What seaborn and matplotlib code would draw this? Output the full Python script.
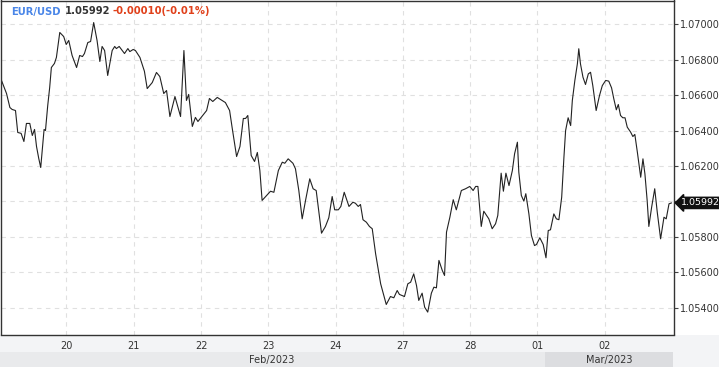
import matplotlib
matplotlib.use("Agg")
import matplotlib.pyplot as plt
from matplotlib.patches import Rectangle
import seaborn as sns
import pandas as pd

# ---- data (hours from chart start, EUR/USD price) ----
hours = [0.8, 2.6, 3.8, 4.6, 5.8, 6.6, 7.8, 8.8, 9.7, 10.9, 11.8, 12.6, 13.3, 14.1, 14.8, 15.4, 16.0, 16.5,
         17.3, 18.0, 18.6, 19.7, 20.4, 21.6, 23.0, 23.9, 24.8, 26.0, 27.6, 28.7, 29.7, 30.4, 31.6, 32.6, 33.7,
         34.9, 35.9, 36.7, 37.6, 38.7, 40.3, 41.2, 41.8, 42.8, 44.7, 45.9, 46.6, 47.8, 48.6, 50.2, 51.8, 52.8,
         54.6, 56.1, 57.3, 58.7, 59.7, 60.9, 62.7, 64.7, 65.9, 66.8, 67.6, 68.9, 70.0, 70.9, 74.0, 75.0, 76.2,
         77.8, 80.7, 82.2, 83.1, 84.7, 85.9, 87.1, 87.9, 88.7, 89.9, 91.1, 92.1, 93.0, 93.8, 96.8, 98.0, 99.6,
         101.0, 101.9, 103.1, 104.8, 105.7, 106.9, 108.1, 109.3, 110.8, 112.0, 113.1, 115.0, 116.4, 117.6,
         118.8, 119.7, 121.0, 121.9, 123.1, 124.8, 126.2, 127.1, 128.1, 128.9, 129.8, 131.0, 132.1, 133.1,
         134.3, 136.1, 138.1, 139.6, 140.8, 142.0, 142.8, 144.6, 145.8, 146.8, 147.9, 148.9, 149.7, 150.9,
         151.8, 152.9, 154.2, 155.1, 156.0, 156.9, 158.1, 158.9, 159.6, 160.8, 162.0, 163.1, 164.9, 166.4,
         167.9, 169.1, 170.0, 170.8, 171.5, 172.0, 172.9, 174.7, 175.9, 177.1, 177.9, 179.1, 179.9, 180.8,
         181.9, 183.1, 183.9, 184.9, 185.4, 186.3, 187.2, 187.9, 189.0, 189.9, 191.0, 191.7, 192.9, 194.1,
         195.1, 195.9, 196.7, 197.9, 198.8, 199.7, 200.7, 201.5, 202.1, 203.0, 203.9, 204.5, 205.4, 206.3,
         206.8, 207.4, 208.3, 209.2, 210.2, 211.0, 211.8, 213.0, 214.2, 215.2, 216.4, 217.5, 218.5, 219.3,
         220.2, 220.9, 221.7, 222.5, 223.3, 224.1, 225.3, 226.1, 226.8, 227.7, 228.9, 229.7, 230.4, 231.2,
         231.8, 232.8, 233.9, 234.8, 236.0, 237.2, 238.0, 239.0, 239.9]
price = [1.06684, 1.06610, 1.06531, 1.06520, 1.06514, 1.06390, 1.06385, 1.06339, 1.06441, 1.06441, 1.06373,
         1.06407, 1.06311, 1.06243, 1.06192, 1.06299, 1.06407, 1.06401, 1.06542, 1.06644, 1.06757, 1.06780,
         1.06814, 1.06955, 1.06932, 1.06887, 1.06910, 1.06825, 1.06757, 1.06825, 1.06819, 1.06836, 1.06898,
         1.06904, 1.07011, 1.06910, 1.06791, 1.06876, 1.06853, 1.06712, 1.06853, 1.06876, 1.06864, 1.06876,
         1.06836, 1.06864, 1.06847, 1.06859, 1.06853, 1.06814, 1.06736, 1.06638, 1.06672, 1.06729, 1.06706,
         1.06610, 1.06627, 1.06480, 1.06593, 1.06480, 1.06853, 1.06571, 1.06605, 1.06424, 1.06475, 1.06452,
         1.06514, 1.06582, 1.06565, 1.06588, 1.06559, 1.06514, 1.06418, 1.06254, 1.06311, 1.06469, 1.06469,
         1.06486, 1.06260, 1.06226, 1.06277, 1.06175, 1.06006, 1.06058, 1.06052, 1.06175, 1.06222, 1.06216,
         1.06241, 1.06216, 1.06185, 1.06062, 1.05902, 1.06006, 1.06128, 1.06072, 1.06062, 1.05821, 1.05859,
         1.05908, 1.06028, 1.05953, 1.05953, 1.05972, 1.06052, 1.05972, 1.05996, 1.05990, 1.05972, 1.05983,
         1.05897, 1.05883, 1.05859, 1.05846, 1.05705, 1.05535, 1.05418, 1.05463, 1.05456, 1.05497, 1.05475,
         1.05463, 1.05535, 1.05544, 1.05591, 1.05525, 1.05441, 1.05482, 1.05403, 1.05375, 1.05482, 1.05516,
         1.05512, 1.05667, 1.05610, 1.05582, 1.05827, 1.05911, 1.06010, 1.05953, 1.06062, 1.06072, 1.06085,
         1.06062, 1.06085, 1.06085, 1.05953, 1.05859, 1.05945, 1.05902, 1.05846, 1.05874, 1.05921, 1.06160,
         1.06058, 1.06160, 1.06090, 1.06175, 1.06270, 1.06335, 1.06166, 1.06034, 1.06002, 1.06044, 1.05930,
         1.05808, 1.05751, 1.05757, 1.05795, 1.05757, 1.05682, 1.05836, 1.05840, 1.05930, 1.05902, 1.05897,
         1.06024, 1.06250, 1.06401, 1.06473, 1.06429, 1.06571, 1.06684, 1.06778, 1.06863, 1.06778, 1.06702,
         1.06661, 1.06721, 1.06730, 1.06655, 1.06514, 1.06599, 1.06655, 1.06684, 1.06680, 1.06642, 1.06580,
         1.06518, 1.06548, 1.06486, 1.06473, 1.06473, 1.06420, 1.06392, 1.06367, 1.06379, 1.06279, 1.06137,
         1.06241, 1.06156, 1.06006, 1.05859, 1.05968, 1.06072, 1.05940, 1.05789, 1.05911, 1.05902, 1.05987,
         1.05992]

day_ticks = [24, 48, 72, 96, 120, 144, 168, 192, 216]
day_labels = ["20", "21", "22", "23", "24", "27", "28", "01", "02"]
price_ticks = [1.054, 1.056, 1.058, 1.060, 1.062, 1.064, 1.066, 1.068, 1.070]
symbol = "EUR/USD"
last_price = 1.05992
change_text = "-0.00010(-0.01%)"
month_labels = ["Feb/2023", "Mar/2023"]

sns.set_style("white")
plt.rcParams['font.family'] = ['DejaVu Sans']

W, H = 719, 367
fig = plt.figure(figsize=(W / 100, H / 100), dpi=100, facecolor="white")

def fx(px):
    return px / W

def fy(py_from_top):
    return 1 - py_from_top / H

# background strips below the chart
fig.patches.append(Rectangle((0, 0), 1, fy(335), transform=fig.transFigure, fc="#f3f4f6", ec="none", zorder=-3))
fig.patches.append(Rectangle((0, 0), fx(545), fy(352), transform=fig.transFigure, fc="#e9eaec", ec="none", zorder=-2))
fig.patches.append(Rectangle((fx(545), 0), fx(673 - 545), fy(352), transform=fig.transFigure, fc="#dcdde0", ec="none", zorder=-2))

ax = fig.add_axes([fx(0.5), fy(334.5), fx(673), (334.5 - 0.5) / H])
df = pd.DataFrame({"hour": hours, "price": price})
sns.lineplot(data=df, x="hour", y="price", ax=ax, color="#222222", linewidth=0.8, sort=False)

ax.set_xlim(0.45, 240.6)
ax.set_ylim(1.052485, 1.071356)
ax.set_xlabel("")
ax.set_ylabel("")

ax.set_xticks(day_ticks)
ax.set_xticklabels(day_labels)
ax.set_yticks(price_ticks)
ax.set_yticklabels([f"{v:.5f}" for v in price_ticks])
ax.yaxis.tick_right()
ax.tick_params(axis="y", which="both", direction="out", length=3, width=0.8, color="#444444",
               labelsize=7, labelcolor="#333333", pad=2, right=True, left=False)
ax.tick_params(axis="x", length=0, labelsize=7, labelcolor="#333333", pad=5, bottom=True)

ax.grid(True, color="#e0e0e0", linestyle=(0, (4, 4)), linewidth=0.8)
for s in ax.spines.values():
    s.set_visible(True)
    s.set_color("#333333")
    s.set_linewidth(1.0)

# current price marker
ax.annotate(f"{last_price:.5f}", xy=(1.0, last_price), xycoords=("axes fraction", "data"),
            xytext=(5.5, 0), textcoords="offset points", ha="left", va="center",
            fontsize=6.8, color="white", annotation_clip=False, zorder=10,
            bbox=dict(boxstyle="larrow,pad=0.12", fc="#111111", ec="#111111"))

# month band labels
fig.text(fx(272), fy(359.5), month_labels[0], fontsize=7, color="#333333", ha="center", va="center")
fig.text(fx(609), fy(359.5), month_labels[1], fontsize=7, color="#333333", ha="center", va="center")

# header text
renderer = fig.canvas.get_renderer()
t1 = fig.text(fx(11), fy(11.5), symbol, fontsize=7.2, fontweight="bold", color="#4a86e8", va="center")
bb = t1.get_window_extent(renderer)
t2 = fig.text((bb.x1 + 4) / W, fy(11.5), f"{last_price:.5f}", fontsize=7.2, fontweight="bold",
              color="#333333", va="center")
bb2 = t2.get_window_extent(renderer)
fig.text((bb2.x1 + 3) / W, fy(11.5), change_text, fontsize=7.2, fontweight="bold",
         color="#e0401a", va="center")

fig.savefig("out.png", dpi=100, facecolor=fig.get_facecolor())
